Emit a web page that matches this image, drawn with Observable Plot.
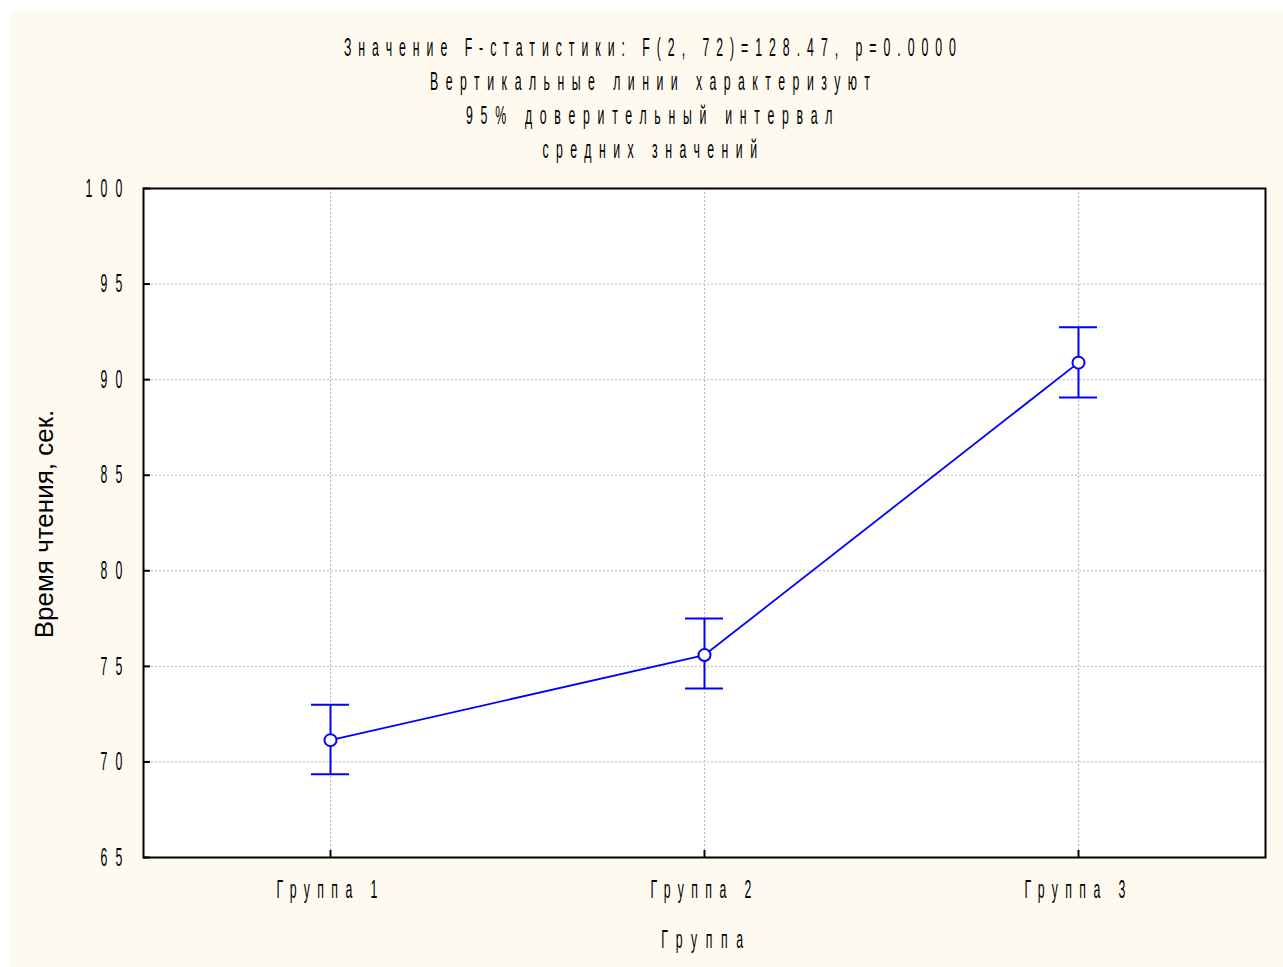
<!DOCTYPE html>
<html><head><meta charset="utf-8">
<script src="https://cdn.jsdelivr.net/npm/d3@7"></script>
<script src="https://cdn.jsdelivr.net/npm/@observablehq/plot@0.6"></script>
<style>
body{margin:0;background:#fff;}
#wrap{position:absolute;left:10px;top:11px;width:1273px;height:956px;background:#fefaef;overflow:hidden}
.tl{position:absolute;left:7px;width:1273px;text-align:center;height:20px;line-height:20px;}
.tl span{display:inline-block;font-family:"Liberation Sans",Arial,sans-serif;font-size:15px;letter-spacing:9.1px;color:#000;transform:scale(0.82,1.7);transform-origin:50% 50%;white-space:pre}
#chart{position:absolute;left:0;top:160px;}
</style></head><body>
<div id="wrap">
 <div id="title"></div>
 <div id="chart"></div>
</div>
<script>
const titleLines = [
  "Значение F-статистики: F(2, 72)=128.47, p=0.0000",
  "Вертикальные линии характеризуют",
  "95% доверительный интервал",
  "средних значений"
];
const categories = ["Группа 1", "Группа 2", "Группа 3"];
const means = [71.14, 75.59, 90.89];
const lower = [69.36, 73.84, 89.06];
const upper = [72.99, 77.50, 92.74];
const yTicks = [65, 70, 75, 80, 85, 90, 95, 100];
const gridTicks = [70, 75, 80, 85, 90, 95];
const xTitle = "Группа";
const yTitle = "Время чтения, сек.";

// title
const tdiv = document.getElementById("title");
titleLines.forEach((t, i) => {
  const d = document.createElement("div");
  d.className = "tl";
  d.style.top = (46.5 - 11 + i * 34 - 10) + "px";
  const s = document.createElement("span");
  s.textContent = t;
  if (i === 0) s.style.letterSpacing = "8.5px";
  if (i === 2) s.style.letterSpacing = "9.4px";
  d.appendChild(s);
  tdiv.appendChild(d);
});

const W = 1273, H = 785;
const mL = 133, mR = 18, mT = 17, mB = 99;
const plotW = W - mL - mR;
const plotH = H - mT - mB;
const rows = categories.map((c, i) => ({c, m: means[i], lo: lower[i], hi: upper[i]}));
const blue = "#0000ff";
const gridStyle = {stroke: "#b8b8b8", strokeDasharray: "2,2", strokeWidth: 1, strokeOpacity: 1};

const chart = Plot.plot({
  width: W, height: H,
  marginLeft: mL, marginRight: mR, marginTop: mT, marginBottom: mB,
  style: {background: "transparent", overflow: "visible", fontFamily: "'Liberation Sans', Arial, sans-serif", color: "#000"},
  x: {type: "band", domain: categories, padding: 0, label: null},
  y: {domain: [65, 100], label: null},
  marks: [
    Plot.frame({fill: "white", stroke: null}),
    Plot.ruleY(gridTicks, {y: d => d, ...gridStyle}),
    Plot.ruleX(categories, {x: d => d, ...gridStyle}),
    Plot.ruleY(yTicks, {y: d => d, insetRight: plotW - 7, stroke: "black", strokeWidth: 2}),
    Plot.ruleX(categories, {x: d => d, insetTop: plotH - 7, stroke: "black", strokeWidth: 2}),
    Plot.axisY({ticks: yTicks, tickSize: 0, tickPadding: 13, tickFormat: d => String(d), fontSize: 15, label: null}),
    Plot.axisX({tickSize: 0, tickPadding: 22, fontSize: 15, label: null}),
    Plot.ruleX(rows, {x: "c", y1: "lo", y2: "hi", stroke: blue, strokeWidth: 2}),
    Plot.tickY(rows, {x: "c", y: "hi", insetLeft: 168, insetRight: 168, stroke: blue, strokeWidth: 2}),
    Plot.tickY(rows, {x: "c", y: "lo", insetLeft: 168, insetRight: 168, stroke: blue, strokeWidth: 2}),
    Plot.line(rows, {x: "c", y: "m", stroke: blue, strokeWidth: 1.8}),
    Plot.dot(rows, {x: "c", y: "m", r: 6, fill: "white", stroke: blue, strokeWidth: 2}),
    Plot.frame({stroke: "black", strokeWidth: 2}),
    Plot.text([xTitle], {frameAnchor: "bottom", text: d => d, dy: 72, dx: 2, fontSize: 15, lineAnchor: "top", textAnchor: "middle"}),
    Plot.text([yTitle], {frameAnchor: "left", text: d => d, rotate: -90, dx: -99, dy: 1, fontSize: 26, textAnchor: "middle"})
  ]
});
document.getElementById("chart").appendChild(chart);

const svg = d3.select(chart);
function stretch(sel, ls) {
  sel.each(function () {
    const t = this.getAttribute("transform") || "";
    this.setAttribute("transform", t + " scale(0.82,1.7)");
    this.style.letterSpacing = ls + "px";
  });
}
stretch(svg.selectAll('g[aria-label="y-axis tick label"] text'), 10);
stretch(svg.selectAll('g[aria-label="x-axis tick label"] text'), 9);
stretch(svg.selectAll("text").filter(function () { return this.textContent === xTitle; }), 10.5);
</script>
</body></html>
